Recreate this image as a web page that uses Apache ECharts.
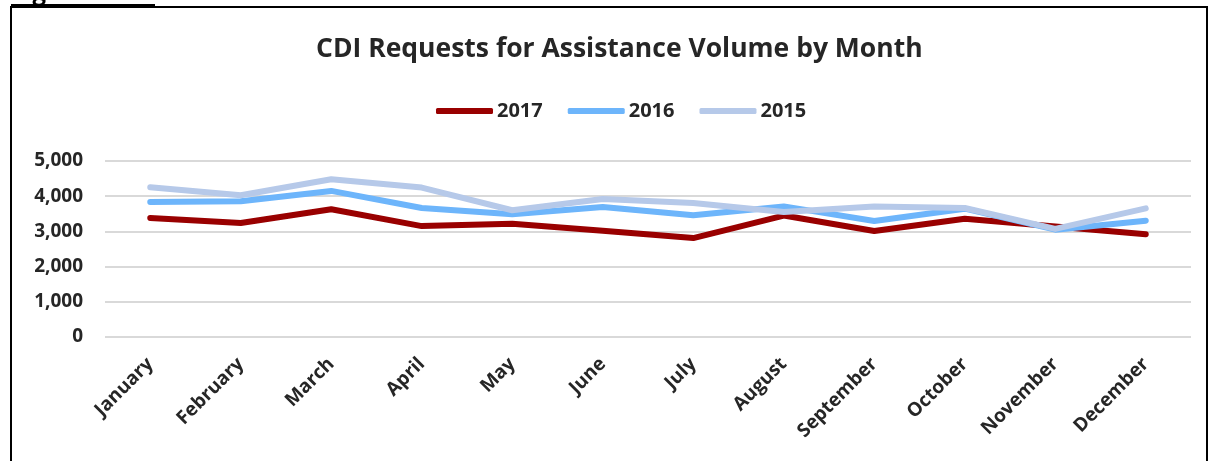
<!DOCTYPE html>
<html>
<head>
<meta charset="utf-8">
<script src="https://cdn.jsdelivr.net/npm/echarts@6/dist/echarts.min.js"></script>
<style>
  html, body { margin: 0; padding: 0; background: #ffffff; }
  #chart { width: 1209px; height: 461px; }
</style>
</head>
<body>
<div id="chart"></div>
<script>
// Monthly request volumes
const months = ['January', 'February', 'March', 'April', 'May', 'June',
  'July', 'August', 'September', 'October', 'November', 'December'];
const vol2017 = [3380, 3240, 3630, 3150, 3220, 3020, 2810, 3450, 3010, 3360, 3140, 2920];
const vol2016 = [3835, 3855, 4150, 3665, 3485, 3690, 3460, 3710, 3295, 3645, 3050, 3305];
const vol2015 = [4255, 4025, 4480, 4245, 3600, 3920, 3805, 3550, 3710, 3665, 3070, 3655];
const yTicks = [0, 1000, 2000, 3000, 4000, 5000];

const FONT = '"Open Sans", "Liberation Sans", sans-serif';
const chart = echarts.init(document.getElementById('chart'), null, { renderer: 'canvas' });

function lineSeries(name, data, color) {
  return {
    name: name,
    type: 'line',
    data: data,
    symbol: 'none',
    smooth: false,
    lineStyle: { color: color, width: 6, cap: 'round', join: 'round' },
    itemStyle: { color: color }
  };
}

chart.setOption({
  animation: false,
  backgroundColor: '#ffffff',
  title: {
    text: 'CDI Requests for Assistance Volume by Month',
    left: 311,
    top: 31,
    textStyle: { fontFamily: FONT, fontWeight: 'bold', fontSize: 26.5, color: '#262626' }
  },
  legend: {
    top: 96,
    left: 431,
    icon: 'roundRect',
    itemWidth: 57,
    itemHeight: 6,
    itemGap: 25,
    textStyle: { fontFamily: FONT, fontWeight: 'bold', fontSize: 20, color: '#262626', padding: [0, 0, 0, -1] },
    data: ['2017', '2016', '2015']
  },
  grid: { left: 105, right: 18, top: 161, bottom: 124, containLabel: false },
  xAxis: {
    type: 'category',
    data: months,
    boundaryGap: true,
    axisLine: { show: false },
    axisTick: { show: false },
    axisLabel: {
      rotate: 45,
      margin: 24,
      interval: 0,
      fontFamily: FONT,
      fontWeight: 'bold',
      fontSize: 19,
      color: '#262626'
    }
  },
  yAxis: {
    type: 'value',
    min: yTicks[0],
    max: yTicks[yTicks.length - 1],
    interval: 1000,
    axisLine: { show: false },
    axisTick: { show: false },
    splitLine: { lineStyle: { color: '#d9d9d9', width: 2 } },
    axisLabel: {
      margin: 22,
      fontFamily: FONT,
      fontWeight: 'bold',
      fontSize: 19,
      color: '#262626',
      formatter: function (v) { return v.toLocaleString('en-US'); }
    }
  },
  series: [
    lineSeries('2017', vol2017, '#990000'),
    lineSeries('2016', vol2016, '#6db5fb'),
    lineSeries('2015', vol2015, '#b6c9e9')
  ],
  graphic: [
    {
      type: 'text',
      left: 12,
      top: -19,
      style: { text: 'Figure 3A', fontFamily: FONT, fontSize: 24, fontWeight: 'bold', fill: '#000000' },
      silent: true
    },
    {
      type: 'rect',
      shape: { x: 11, y: 4, width: 144, height: 3 },
      style: { fill: '#000000' },
      silent: true
    },
    {
      type: 'rect',
      shape: { x: 11, y: 7, width: 1196, height: 470 },
      style: { fill: 'none', stroke: '#000000', lineWidth: 2 },
      silent: true
    }
  ]
});
</script>
</body>
</html>
